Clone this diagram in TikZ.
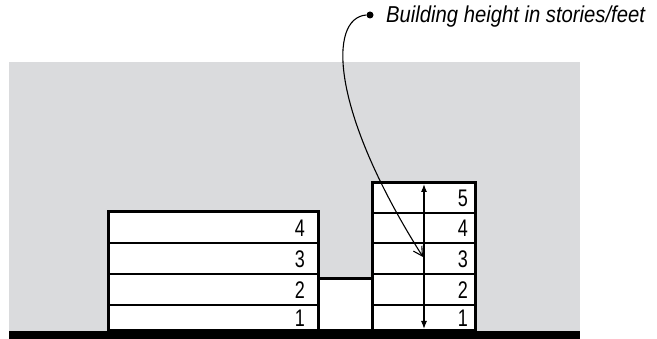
\documentclass[tikz,border=0pt]{standalone}
\usepackage{fontspec}
\setmainfont{Liberation Sans}
\newfontfamily\numfont{Liberation Sans}[FakeStretch=0.75]
\newfontfamily\notefont{Liberation Sans}[FakeStretch=0.88]
\usetikzlibrary{arrows.meta}
\definecolor{skygray}{HTML}{DADBDD}

\begin{document}
\begin{tikzpicture}[x=1pt, y=-1pt,
	shell/.style={line width=3pt, fill=white},
	storey/.style={line width=1.7pt},
	num/.style={font=\numfont\fontsize{24}{24}\selectfont, anchor=east, inner sep=0pt}]
	\useasboundingbox (0,0) rectangle (657,339);
	\fill[skygray] (9,62) rectangle (580,331);
	% buildings
	\draw[shell] (318,279) rectangle (372,331);
	\draw[shell] (108,212) rectangle (318,331);
	\draw[shell] (372,183) rectangle (475,331);
	\foreach \y in {243,274,305} {
		\draw[storey] (108,\y) -- (318,\y);
	}
	\foreach \y in {213,243,274,305} {
		\draw[storey] (372,\y) -- (475,\y);
	}
	\fill (9,331) rectangle (580,339);
	% storey numbers
	\foreach \n/\y in {4/228, 3/259, 2/290, 1/318} {
		\node[num] (left\n) at (305,\y) {\n};
	}
	\foreach \n/\y in {5/198.5, 4/228, 3/259, 2/290, 1/318} {
		\node[num] (right\n) at (468,\y) {\n};
	}
	% height arrow
	\coordinate (htop) at (424,184);
	\coordinate (hbot) at (424,329);
	\draw[line width=1.1pt, {Latex[length=8pt,width=6pt]}-{Latex[length=8pt,width=6pt]}] (htop) -- (hbot);
	% caption
	\node[circle, fill, inner sep=0pt, minimum size=7pt] (dot) at (370,15) {};
	\node[font=\notefont\itshape\fontsize{23}{23}\selectfont, anchor=base west, inner sep=0pt] (caption) at (386,23) {Building height in stories/feet};
	\coordinate (tip) at (423,257);
	\draw[line width=1.1pt, -{Straight Barb[length=9pt,width=10pt]}] (dot.west) .. controls (328,18) and (330,110) .. (tip);
\end{tikzpicture}
\end{document}
